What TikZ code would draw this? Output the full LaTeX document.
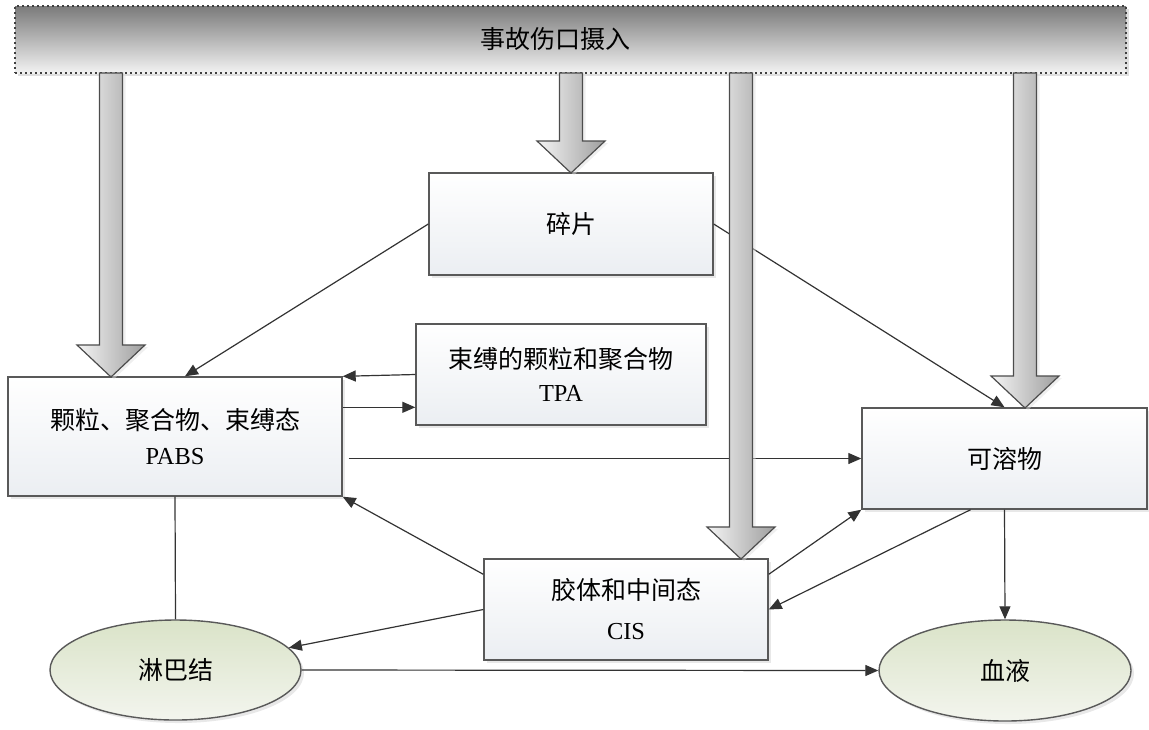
\documentclass[tikz,border=0pt]{standalone}
\usepackage{fontspec}
\setmainfont{Liberation Serif}
\newfontfamily\cjk{Noto Sans CJK SC}
\usetikzlibrary{arrows.meta,shapes.geometric,shadows,calc}

\newcommand{\zh}[1]{{\cjk\fontsize{12.5}{17.5}\selectfont #1}}
\newcommand{\bigarrow}[2]{\shade[bigarrow] (#1-11.5,73) -- (#1+11.5,73) -- (#1+11.5,#2-32) -- (#1+34,#2-32) -- (#1,#2) -- (#1-34,#2-32) -- (#1-11.5,#2-32) -- cycle;}

\begin{document}
\begin{tikzpicture}[x=0.5pt,y=-0.5pt,>={Triangle[length=6.5pt,width=5.5pt]},
	line/.style={draw=black!80,line width=0.6pt},
	box/.style={rectangle,draw=black!65,line width=0.7pt,top color=white,bottom color={rgb,255:red,235;green,238;blue,242},drop shadow={shadow xshift=1.5pt,shadow yshift=-1.5pt,fill=black!18},font=\fontsize{12.2}{17.5}\selectfont,align=center,inner sep=0pt},
	organ/.style={ellipse,draw=black!65,line width=0.7pt,top color={rgb,255:red,218;green,227;blue,200},bottom color={rgb,255:red,243;green,245;blue,238},drop shadow={shadow xshift=1.5pt,shadow yshift=-1.5pt,fill=black!18},inner sep=0pt},
	bar/.style={rectangle,draw=black!75,dash pattern=on 1.2pt off 1.3pt,line width=1.3pt,top color=black!52,bottom color=black!5,drop shadow={shadow xshift=1.5pt,shadow yshift=-1.5pt,fill=black!25},inner sep=0pt},
	bigarrow/.style={draw=black!70,line width=0.6pt,left color=black!4,right color=black!38,drop shadow={shadow xshift=1.5pt,shadow yshift=-1pt,fill=black!12}}]
	\useasboundingbox (0,0) rectangle (1149,729);
	\node[bar,minimum width=555.5pt,minimum height=33.5pt] (intake) at (570.5,39.5) {\zh{事故伤口摄入}\hspace*{15pt}};
	\node[box,minimum width=142pt,minimum height=51pt] (frag) at (571,224) {\zh{碎片}};
	\node[box,minimum width=145pt,minimum height=50.5pt] (tpa) at (561,374.5) {\zh{束缚的颗粒和聚合物}\\[-1pt]TPA};
	\node[box,minimum width=167pt,minimum height=59.5pt] (pabs) at (175,436.5) {\zh{颗粒、聚合物、束缚态}\\PABS};
	\node[box,minimum width=142.5pt,minimum height=50.5pt] (sol) at (1004.5,458.5) {\zh{可溶物}};
	\node[box,minimum width=142pt,minimum height=50.5pt] (cis) at (626,609.5) {\zh{胶体和中间态}\\[2.5pt]CIS};
	\node[organ,minimum width=125.5pt,minimum height=50pt] (lymph) at (175.5,670) {\zh{淋巴结}};
	\node[organ,minimum width=126pt,minimum height=50.5pt] (blood) at (1005,670.5) {\zh{血液}};

	\draw[line,->] (frag.west) -- ($(pabs.north)+(10,0)$);
	\draw[line,->] (frag.east) -- (sol.north);
	\draw[line,->] (tpa.west) -- (pabs.north east);
	\draw[line,->] ($(pabs.north east)+(0,31)$) coordinate (back) -- (tpa.west |- back);
	\draw[line,->] ($(pabs.east |- sol.west)+(6,0)$) -- (sol.west);
	\draw[line,->] ($(cis.north west)+(0,16)$) -- (pabs.south east);
	\draw[line,->] (cis.west) -- (lymph);
	\draw[line] (pabs.south) -- (lymph.north);
	\draw[line,->] (lymph.east) -- (blood.west);
	\draw[line,->] ($(cis.north east)+(0,16)$) -- (sol.south west);
	\draw[line,->] ($(sol.south)+(-34,0)$) -- (cis.east);
	\draw[line,->] (sol.south) -- (blood.north);

	\bigarrow{111}{377}
	\bigarrow{571}{173}
	\bigarrow{741}{559}
	\bigarrow{1025}{408}
\end{tikzpicture}
\end{document}
